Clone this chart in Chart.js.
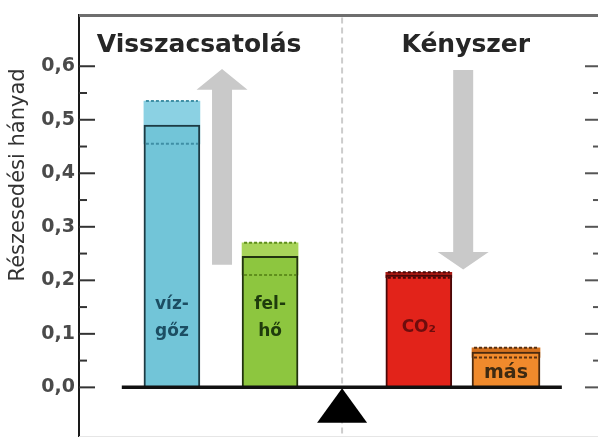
<!DOCTYPE html>
<html>
<head>
<meta charset="utf-8">
<script src="https://cdn.jsdelivr.net/npm/chart.js@4.4.0/dist/chart.umd.min.js"></script>
<style>
  html, body { margin: 0; padding: 0; background: #fff; overflow: hidden; }
  #wrap { width: 598px; height: 437px; overflow: hidden; position: relative; }
  #wrap canvas { position: absolute; left: 0; top: 0; }
</style>
</head>
<body>
<div id="wrap"><canvas id="balanceChart" width="612" height="452"></canvas></div>
<script>
// bar data (x runs 0..10 across the plot box)
const barNames = ['vízgőz', 'felhő', 'CO2', 'más'];
const barX = [1.78, 3.66, 6.51, 8.18];
const barValues = [0.49, 0.245, 0.21, 0.066];
const rangeLow = [0.455, 0.21, 0.205, 0.056];
const rangeHigh = [0.535, 0.27, 0.215, 0.074];
const barLabels = [['víz-', 'gőz'], ['fel-', 'hő'], ['CO₂'], ['más']];
const barLabelY = [[0.155, 0.104], [0.155, 0.104], [0.112], [0.026]];

// section headings
const sectionTitles = ['Visszacsatolás', 'Kényszer'];
const sectionX = [2.30, 7.41];
const sectionY = 0.626;

// axis
const yMin = -0.092;
const yMax = 0.695;
const yTicks = [0, 0.1, 0.2, 0.3, 0.4, 0.5, 0.6];
const yMinorTicks = [0.05, 0.15, 0.25, 0.35, 0.45, 0.55];
const tickLabels = ['0,0', '0,1', '0,2', '0,3', '0,4', '0,5', '0,6'];
const yTitle = 'Részesedési hányad';

// balance decorations
const dividerX = 5.04;
const beamFrom = 0.82;
const beamTo = 9.25;
const arrows = [
    { x: 2.74, from: 0.229, head: 0.556, to: 0.595 },
    { x: 7.36, from: 0.593, head: 0.253, to: 0.22 }
];

// styles
const barWidths = [56, 56, 66, 68];
const fillColors = ['#72c5d8', '#8dc63f', '#e2231a', '#f08a2c'];
const rangeColors = ['#8bd1e3', '#a8d45a', '#a81a14', '#d4711e'];
const edgeColors = ['#1d3b44', '#22330f', '#4a0808', '#4a2a10'];
const dashColors = ['#3f8fa5', '#5f8f1c', '#4a0808', '#5a3010'];
const labelColors = ['#1c4e63', '#1e3b0c', '#6e0d0d', '#3d2a12'];
const labelSizes = [17, 17, 17, 19];

function drawArrow(ctx, cx, yFrom, yHead, yTo) {
    const sw = 20, hw = 51;
    ctx.beginPath();
    ctx.moveTo(cx - sw / 2, yFrom);
    ctx.lineTo(cx - sw / 2, yHead);
    ctx.lineTo(cx - hw / 2, yHead);
    ctx.lineTo(cx, yTo);
    ctx.lineTo(cx + hw / 2, yHead);
    ctx.lineTo(cx + sw / 2, yHead);
    ctx.lineTo(cx + sw / 2, yFrom);
    ctx.closePath();
    ctx.fill();
}

const decorPlugin = {
    id: 'decor',
    beforeDatasetsDraw(chart) {
        const { ctx, chartArea: a, scales: { x, y } } = chart;
        ctx.save();
        // frame top and faint bottom
        ctx.strokeStyle = '#6e6e6e';
        ctx.lineWidth = 3;
        ctx.beginPath(); ctx.moveTo(a.left, a.top); ctx.lineTo(a.right, a.top); ctx.stroke();
        ctx.strokeStyle = '#e4e4e4';
        ctx.lineWidth = 1;
        ctx.beginPath(); ctx.moveTo(a.left, a.bottom); ctx.lineTo(a.right, a.bottom); ctx.stroke();

        // dashed divider
        const dx = x.getPixelForValue(dividerX);
        ctx.strokeStyle = '#cccccc';
        ctx.lineWidth = 2;
        ctx.setLineDash([6, 4]);
        ctx.beginPath(); ctx.moveTo(dx, a.top + 2); ctx.lineTo(dx, a.bottom); ctx.stroke();
        ctx.setLineDash([]);

        // gray arrows
        ctx.fillStyle = '#c9c9c9';
        arrows.forEach(ar => {
            drawArrow(ctx, x.getPixelForValue(ar.x), y.getPixelForValue(ar.from),
                y.getPixelForValue(ar.head), y.getPixelForValue(ar.to));
        });

        // headings
        ctx.fillStyle = '#262626';
        ctx.font = 'bold 25px "DejaVu Sans"';
        ctx.textAlign = 'center';
        ctx.textBaseline = 'alphabetic';
        sectionTitles.forEach((t, i) => {
            ctx.fillText(t, x.getPixelForValue(sectionX[i]), y.getPixelForValue(sectionY));
        });

        // y title
        ctx.save();
        ctx.translate(a.left - 60, y.getPixelForValue(0.397));
        ctx.rotate(-Math.PI / 2);
        ctx.font = '21px "DejaVu Sans"';
        ctx.fillStyle = '#333333';
        ctx.textAlign = 'center';
        ctx.textBaseline = 'middle';
        ctx.fillText(yTitle, 0, 0);
        ctx.restore();
        ctx.restore();
    },
    afterDatasetsDraw(chart) {
        const { ctx, chartArea: a, scales: { x, y } } = chart;
        ctx.save();

        // dashed range edges on each bar
        ctx.lineWidth = 2;
        ctx.setLineDash([3, 2]);
        barNames.forEach((n, i) => {
            const cx = x.getPixelForValue(barX[i]);
            const half = barWidths[i] / 2 - 2;
            ctx.strokeStyle = dashColors[i];
            [rangeLow[i], rangeHigh[i]].forEach(v => {
                const py = y.getPixelForValue(v);
                ctx.beginPath(); ctx.moveTo(cx - half, py); ctx.lineTo(cx + half, py); ctx.stroke();
            });
        });
        ctx.setLineDash([]);

        // labels inside bars
        ctx.textAlign = 'center';
        ctx.textBaseline = 'middle';
        barLabels.forEach((lines, i) => {
            ctx.font = 'bold ' + labelSizes[i] + 'px "DejaVu Sans"';
            ctx.fillStyle = labelColors[i];
            lines.forEach((t, j) => {
                ctx.fillText(t, x.getPixelForValue(barX[i]), y.getPixelForValue(barLabelY[i][j]));
            });
        });

        // beam of the balance
        const y0 = y.getPixelForValue(0);
        ctx.strokeStyle = '#111111';
        ctx.lineWidth = 3.5;
        ctx.beginPath();
        ctx.moveTo(x.getPixelForValue(beamFrom), y0);
        ctx.lineTo(x.getPixelForValue(beamTo), y0);
        ctx.stroke();

        // fulcrum
        const fx = x.getPixelForValue(dividerX);
        ctx.fillStyle = '#000000';
        ctx.beginPath();
        ctx.moveTo(fx, y0 + 1);
        ctx.lineTo(fx + 25, y.getPixelForValue(-0.066));
        ctx.lineTo(fx - 25, y.getPixelForValue(-0.066));
        ctx.closePath();
        ctx.fill();

        // inward tick marks, left and right
        ctx.lineWidth = 2;
        ctx.strokeStyle = '#333333';
        yTicks.forEach(v => {
            const py = y.getPixelForValue(v);
            ctx.beginPath(); ctx.moveTo(a.left, py); ctx.lineTo(a.left + 16, py); ctx.stroke();
        });
        yMinorTicks.forEach(v => {
            const py = y.getPixelForValue(v);
            ctx.beginPath(); ctx.moveTo(a.left, py); ctx.lineTo(a.left + 8, py); ctx.stroke();
        });
        ctx.strokeStyle = '#555555';
        yTicks.forEach(v => {
            const py = y.getPixelForValue(v);
            ctx.beginPath(); ctx.moveTo(a.right, py); ctx.lineTo(a.right - 16, py); ctx.stroke();
        });
        yMinorTicks.forEach(v => {
            const py = y.getPixelForValue(v);
            ctx.beginPath(); ctx.moveTo(a.right, py); ctx.lineTo(a.right - 8, py); ctx.stroke();
        });
        ctx.restore();
    }
};

const mainSets = barNames.map((name, i) => ({
    label: name,
    data: [{ x: barX[i], y: barValues[i] }],
    backgroundColor: fillColors[i],
    borderColor: edgeColors[i],
    borderWidth: 2,
    borderSkipped: 'start',
    maxBarThickness: barWidths[i],
    barPercentage: 1,
    categoryPercentage: 1,
    grouped: false,
    order: 0
}));

const rangeSets = barNames.map((name, i) => ({
    label: name + ' tartomány',
    data: [{ x: barX[i], y: [rangeLow[i], rangeHigh[i]] }],
    backgroundColor: rangeColors[i],
    borderWidth: 0,
    maxBarThickness: barWidths[i],
    barPercentage: 1,
    categoryPercentage: 1,
    grouped: false,
    order: 1
}));

const ctx = document.getElementById('balanceChart').getContext('2d');
new Chart(ctx, {
    type: 'bar',
    data: { datasets: mainSets.concat(rangeSets) },
    options: {
        responsive: false,
        animation: false,
        layout: { autoPadding: false, padding: { top: 13, right: 11, bottom: 2, left: 0 } },
        plugins: { legend: { display: false }, tooltip: { enabled: false } },
        scales: {
            x: {
                type: 'linear',
                min: 0,
                max: 10,
                offset: false,
                display: false,
                ticks: { stepSize: 10 }
            },
            y: {
                min: yMin,
                max: yMax,
                afterFit(scale) { scale.width = 79; },
                afterBuildTicks(scale) { scale.ticks = yTicks.map(v => ({ value: v })); },
                ticks: {
                    callback: (v, i) => tickLabels[i],
                    font: { family: 'DejaVu Sans', weight: 'bold', size: 19 },
                    color: '#4a4a4a',
                    padding: 4,
                    autoSkip: false
                },
                grid: { display: false, drawTicks: false },
                border: { display: true, color: '#1a1a1a', width: 2 }
            }
        }
    },
    plugins: [decorPlugin]
});
</script>
</body>
</html>
